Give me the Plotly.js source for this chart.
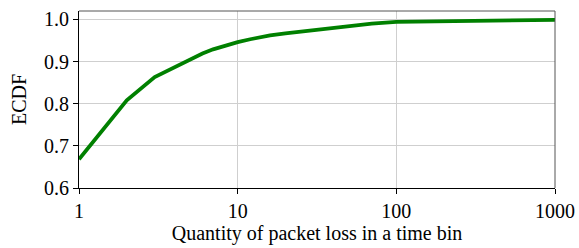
<!DOCTYPE html>
<html>
<head>
<meta charset="utf-8">
<script src="https://cdn.plot.ly/plotly-3.0.1.min.js"></script>
<style>html,body{margin:0;padding:0;background:#fff}#chart{width:579px;height:248px}</style>
</head>
<body>
<div id="chart"></div>
<script>
const lossQuantity = [1, 2, 3, 4, 5, 6, 7, 8, 9, 10, 12, 14, 16, 20, 25, 30, 40, 50, 70, 100, 200, 500, 1000];
const ecdfValues = [0.668, 0.808, 0.863, 0.887, 0.905, 0.919, 0.929, 0.936, 0.941, 0.946, 0.953, 0.958, 0.962, 0.967, 0.971, 0.975, 0.981, 0.985, 0.990, 0.994, 0.996, 0.998, 0.999];
const xTickVals = [1, 10, 100, 1000];
const xTickText = ['1', '10', '100', '1000'];
const yTickVals = [0.6, 0.7, 0.8, 0.9, 1.0];
const yTickText = ['0.6', '0.7', '0.8', '0.9', '1.0'];

const font = {family: '"Liberation Serif", "Times New Roman", serif', size: 20, color: '#000'};

Plotly.newPlot('chart', [{
  x: lossQuantity, y: ecdfValues, type: 'scatter', mode: 'lines',
  line: {color: '#008000', width: 3.8}, hoverinfo: 'skip'
}], {
  width: 579, height: 248,
  margin: {l: 79, r: 24, t: 11, b: 60},
  paper_bgcolor: '#fff', plot_bgcolor: '#fff',
  font: font,
  showlegend: false,
  xaxis: {
    type: 'log', range: [0, 3],
    tickvals: xTickVals, ticktext: xTickText,
    ticks: 'outside', ticklen: 5, tickcolor: '#000', tickwidth: 1,
    showline: true, linecolor: '#000', linewidth: 1,
    showgrid: true, gridcolor: '#cfcfcf', gridwidth: 1,
    zeroline: false,
    tickfont: font,
    title: {text: 'Quantity of packet loss in a time bin', font: font, standoff: 4}
  },
  yaxis: {
    range: [0.6, 1.02],
    tickvals: yTickVals, ticktext: yTickText,
    ticks: 'outside', ticklen: 5, tickcolor: '#000', tickwidth: 1,
    showline: true, linecolor: '#000', linewidth: 1,
    showgrid: true, gridcolor: '#cfcfcf', gridwidth: 1,
    zeroline: false,
    tickfont: font,
    title: {text: 'ECDF', font: font, standoff: 12}
  },
  shapes: [
    {type: 'line', xref: 'paper', yref: 'paper', x0: 0, x1: 1, y0: 1, y1: 1, line: {color: '#555', width: 1}},
    {type: 'line', xref: 'paper', yref: 'paper', x0: 1, x1: 1, y0: 0, y1: 1, line: {color: '#555', width: 1}}
  ]
}, {displayModeBar: false, staticPlot: true});
</script>
</body>
</html>
